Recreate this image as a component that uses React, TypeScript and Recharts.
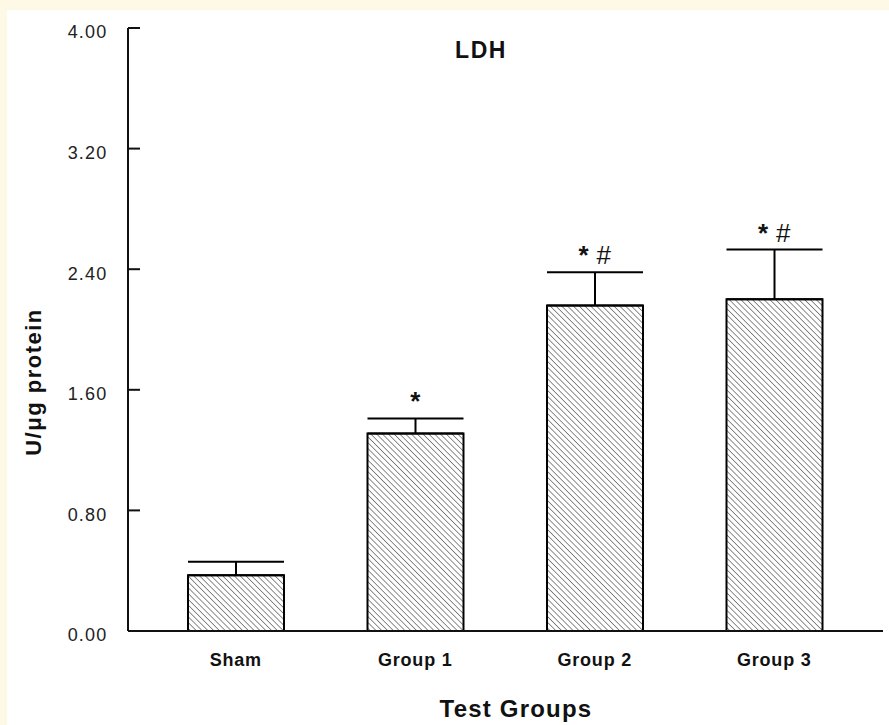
import { ComposedChart, Bar, Line, ErrorBar, XAxis, YAxis, LabelList } from 'recharts'

const categories = ['Sham', 'Group 1', 'Group 2', 'Group 3']
const means = [0.37, 1.31, 2.16, 2.20]
const sems = [0.09, 0.10, 0.22, 0.33]
const marks = ['', '*', '* #', '* #']
const yTicks = [0, 0.8, 1.6, 2.4, 3.2, 4]

const FONT = '"Liberation Sans", Arial, Helvetica, sans-serif'
const INK = '#111'

const data = categories.map((name, i) => ({
    name,
    mean: means[i],
    err: [0, sems[i]],
    top: means[i] + sems[i],
    mark: marks[i],
}))

// eslint-disable-next-line @typescript-eslint/no-explicit-any
function YTick({ x, y, payload }: any) {
    return (
        <g>
            <line x1={x + 22} x2={x + 34} y1={y} y2={y} stroke={INK} strokeWidth={2} />
            <text x={x + 1.5} y={y + 4} dy="0.355em" textAnchor="end" fontSize={18}
                letterSpacing={1.2} fill="#222" fontFamily={FONT}>
                {Number(payload.value).toFixed(2)}
            </text>
        </g>
    )
}

// eslint-disable-next-line @typescript-eslint/no-explicit-any
function XTick({ x, y, payload }: any) {
    return (
        <text x={x} y={y} dy="0.71em" textAnchor="middle" fontSize={18} fontWeight="bold"
            letterSpacing={0.8} fill={INK} fontFamily={FONT}>
            {payload.value}
        </text>
    )
}

// star drawn bold, hash plain, as in the figure
// eslint-disable-next-line @typescript-eslint/no-explicit-any
function Mark({ x, y, value }: any) {
    if (!value) return null
    const [star, hash] = String(value).split(' ')
    return (
        <text x={x} y={y - 8} textAnchor="middle" fontSize={26} fill={INK} fontFamily={FONT}>
            <tspan fontWeight="bold">{star}</tspan>
            {hash && <tspan dx={8}>{hash}</tspan>}
        </text>
    )
}

export default function App() {
    return (
        <div style={{ position: 'absolute', left: 0, top: 0, width: 889, height: 725, background: '#fdf9e6', fontFamily: FONT }}>
            <div style={{ position: 'absolute', left: 7, top: 10, width: 882, height: 715, background: '#fff' }} />
            <svg width={0} height={0} style={{ position: 'absolute' }}>
                <defs>
                    <pattern id="hatch" patternUnits="userSpaceOnUse" width={4.1} height={4.1} patternTransform="rotate(-45)">
                        <rect width={4.1} height={4.1} fill="#fff" />
                        <line x1={0} y1={0} x2={0} y2={4.1} stroke="#333" strokeWidth={1.1} />
                    </pattern>
                </defs>
            </svg>
            <div style={{ position: 'absolute', left: 0, top: 0 }}>
                <ComposedChart width={889} height={725} data={data}
                    margin={{ top: 28, right: 6, bottom: 44, left: 48 }}>
                    <XAxis dataKey="name" height={50} tickSize={0} tickMargin={22} tickLine={false}
                        axisLine={{ stroke: INK, strokeWidth: 2 }} tick={<XTick />}
                        padding={{ left: 18, right: 19 }} />
                    <YAxis width={80} domain={[0, 4]} ticks={yTicks} tickSize={0} tickMargin={22}
                        tickLine={false} axisLine={{ stroke: INK, strokeWidth: 2 }} tick={<YTick />}
                        allowDataOverflow />
                    <Bar dataKey="mean" barSize={96} fill="url(#hatch)" stroke="#000" strokeWidth={2}
                        isAnimationActive={false}>
                        <ErrorBar dataKey="err" width={48} stroke="#000" strokeWidth={2} direction="y" />
                    </Bar>
                    <Line dataKey="top" stroke="none" dot={false} activeDot={false} isAnimationActive={false}>
                        <LabelList dataKey="mark" content={<Mark />} />
                    </Line>
                </ComposedChart>
            </div>
            <svg width={889} height={725} style={{ position: 'absolute', left: 0, top: 0, pointerEvents: 'none' }}>
                <text x={481} y={58} textAnchor="middle" fontSize={23} fontWeight="bold" letterSpacing={1.5}
                    fill={INK} fontFamily={FONT}>LDH</text>
                <text x={516} y={717} textAnchor="middle" fontSize={24} fontWeight="bold" letterSpacing={1.2}
                    fill={INK} fontFamily={FONT}>Test Groups</text>
                <text x={41} y={382} transform="rotate(-90 41 382)" textAnchor="middle" fontSize={22}
                    fontWeight="bold" letterSpacing={1.5} fill={INK} fontFamily={FONT}>U/μg protein</text>
            </svg>
        </div>
    )
}
